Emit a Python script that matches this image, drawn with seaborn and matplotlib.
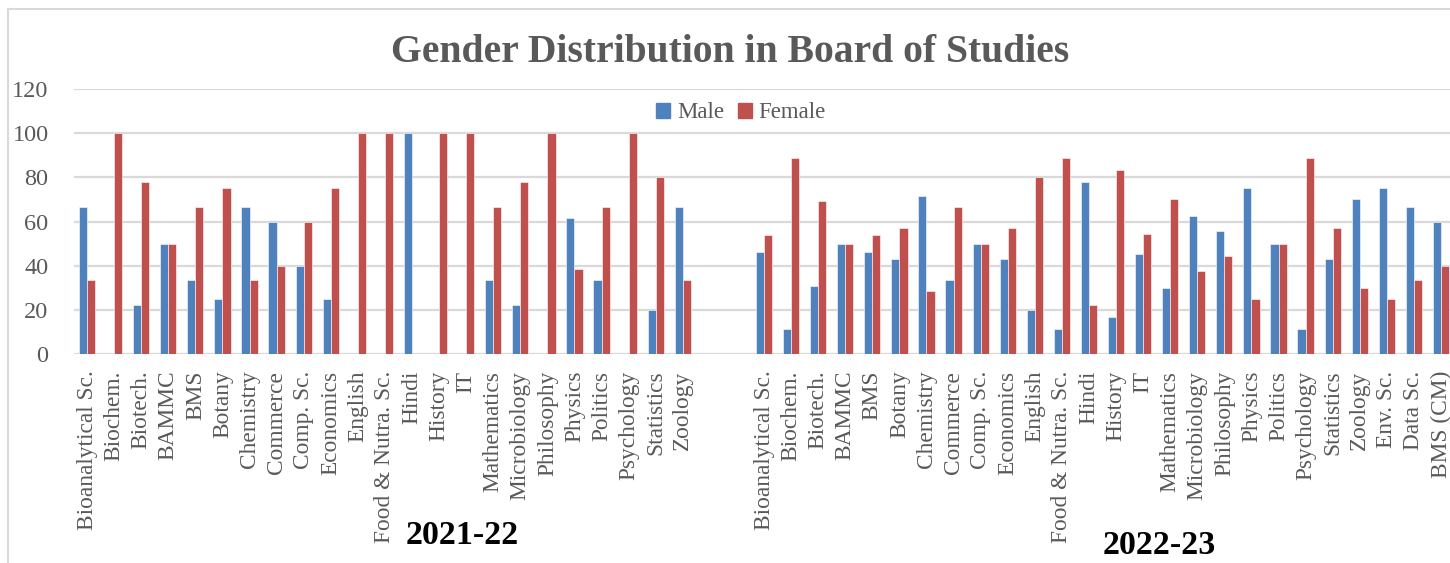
import numpy as np
import pandas as pd
import matplotlib
matplotlib.use("Agg")
import matplotlib.pyplot as plt
import matplotlib.transforms as mtransforms
from matplotlib.lines import Line2D
import seaborn as sns

# ---- data -------------------------------------------------------------
years = ["2021-22", "2022-23"]

subjects_2122 = ["Bioanalytical Sc.", "Biochem.", "Biotech.", "BAMMC", "BMS", "Botany",
                 "Chemistry", "Commerce", "Comp. Sc.", "Economics", "English",
                 "Food & Nutra. Sc.", "Hindi", "History", "IT", "Mathematics",
                 "Microbiology", "Philosophy", "Physics", "Politics", "Psychology",
                 "Statistics", "Zoology"]
male_2122 = [66.67, 0, 22.22, 50, 33.33, 25, 66.67, 60, 40, 25, 0, 0, 100, 0, 0,
             33.33, 22.22, 0, 61.54, 33.33, 0, 20, 66.67]
female_2122 = [33.33, 100, 77.78, 50, 66.67, 75, 33.33, 40, 60, 75, 100, 100, 0, 100, 100,
               66.67, 77.78, 100, 38.46, 66.67, 100, 80, 33.33]

subjects_2223 = ["Bioanalytical Sc.", "Biochem.", "Biotech.", "BAMMC", "BMS", "Botany",
                 "Chemistry", "Commerce", "Comp. Sc.", "Economics", "English",
                 "Food & Nutra. Sc.", "Hindi", "History", "IT", "Mathematics",
                 "Microbiology", "Philosophy", "Physics", "Politics", "Psychology",
                 "Statistics", "Zoology", "Env. Sc.", "Data Sc.", "BMS (CM)"]
male_2223 = [46.15, 11.11, 30.77, 50, 46.15, 42.86, 71.43, 33.33, 50, 42.86, 20, 11.11,
             77.78, 16.67, 45.45, 30, 62.5, 55.56, 75, 50, 11.11, 42.86, 70, 75, 66.67, 60]
female_2223 = [53.85, 88.89, 69.23, 50, 53.85, 57.14, 28.57, 66.67, 50, 57.14, 80, 88.89,
               22.22, 83.33, 54.55, 70, 37.5, 44.44, 25, 50, 88.89, 57.14, 30, 25, 33.33, 40]

series_names = ["Male", "Female"]
palette = {"Male": "#4F81BD", "Female": "#C0504D"}

# ---- long table with one key per (year, subject) ---------------------
rows = []
for yr, subs, m, f in [(years[0], subjects_2122, male_2122, female_2122),
                       (years[1], subjects_2223, male_2223, female_2223)]:
    for s, mv, fv in zip(subs, m, f):
        key = f"{yr}|{s}"
        rows.append({"key": key, "Gender": "Male", "value": mv})
        rows.append({"key": key, "Gender": "Female", "value": fv})
df = pd.DataFrame(rows)

# two empty slots separate the academic years
gap_keys = ["gap1", "gap2"]
order = ([f"{years[0]}|{s}" for s in subjects_2122] + gap_keys +
         [f"{years[1]}|{s}" for s in subjects_2223])
tick_text = [k.split("|")[1] if "|" in k else "" for k in order]

# ---- styling -----------------------------------------------------------
sns.set_style("white")
plt.rcParams["font.family"] = ["Liberation Serif", "DejaVu Serif"]
text_grey = "#595959"
grid_grey = "#D9D9D9"

W, H = 1450, 563
fig = plt.figure(figsize=(W / 100, H / 100), dpi=100)
fig.patch.set_facecolor("white")

ax_left, ax_bottom, ax_top = 73.5, 209, 474
ax = fig.add_axes([ax_left / W, ax_bottom / H, 1 - ax_left / W, (ax_top - ax_bottom) / H])

sns.barplot(data=df, x="key", y="value", hue="Gender", order=order,
            hue_order=series_names, palette=palette, saturation=1, width=0.6, gap=0,
            edgecolor="#FFFFFF", linewidth=0.4, errorbar=None, legend=False, ax=ax)

ax.set_xlim(-0.5, (W - 87) / 27.08)
ax.set_ylim(0, 120)
ax.set_yticks(np.arange(0, 121, 20))
ax.yaxis.grid(True, color=grid_grey, linewidth=1.6)
ax.set_axisbelow(True)
for sp in ax.spines.values():
    sp.set_visible(False)

ax.set_xticks(range(len(order)))
ax.set_xticklabels(tick_text, rotation=90, ha="center", va="top",
                   fontsize=16.8, color=text_grey)
ax.tick_params(axis="x", length=0, pad=12)
ax.tick_params(axis="y", length=0, pad=18, labelsize=17.5, labelcolor=text_grey)
ax.set_xlabel("")
ax.set_ylabel("")

# academic-year labels under the subject names
blend = mtransforms.blended_transform_factory(ax.transData, fig.transFigure)
ax.text(13.85, 1 - 535 / H, years[0], transform=blend, ha="center", va="center",
        fontsize=24.5, fontweight="bold", color="black")
ax.text(39.6, 1 - 545 / H, years[1], transform=blend, ha="center", va="center",
        fontsize=24.5, fontweight="bold", color="black")

# title
fig.text(730 / W, 1 - 53 / H, "Gender Distribution in Board of Studies",
         ha="center", va="center", fontsize=28.5, fontweight="bold", color=text_grey)

# legend
handles = [plt.Rectangle((0, 0), 1, 1, color=palette[n]) for n in series_names]
fig.legend(handles, series_names, loc="center", bbox_to_anchor=(741 / W, 1 - 113 / H),
           ncol=2, frameon=False, fontsize=16.5, labelcolor=text_grey,
           handlelength=0.6, handleheight=0.6, handletextpad=0.3, columnspacing=0.6)

# chart-area border (left and top edges)
fig.add_artist(Line2D([8 / W, 8 / W], [0, 1 - 9 / H], transform=fig.transFigure,
                      color=grid_grey, linewidth=1.5))
fig.add_artist(Line2D([8 / W, 1], [1 - 9 / H, 1 - 9 / H], transform=fig.transFigure,
                      color=grid_grey, linewidth=1.5))

fig.savefig("out.png", dpi=100)
